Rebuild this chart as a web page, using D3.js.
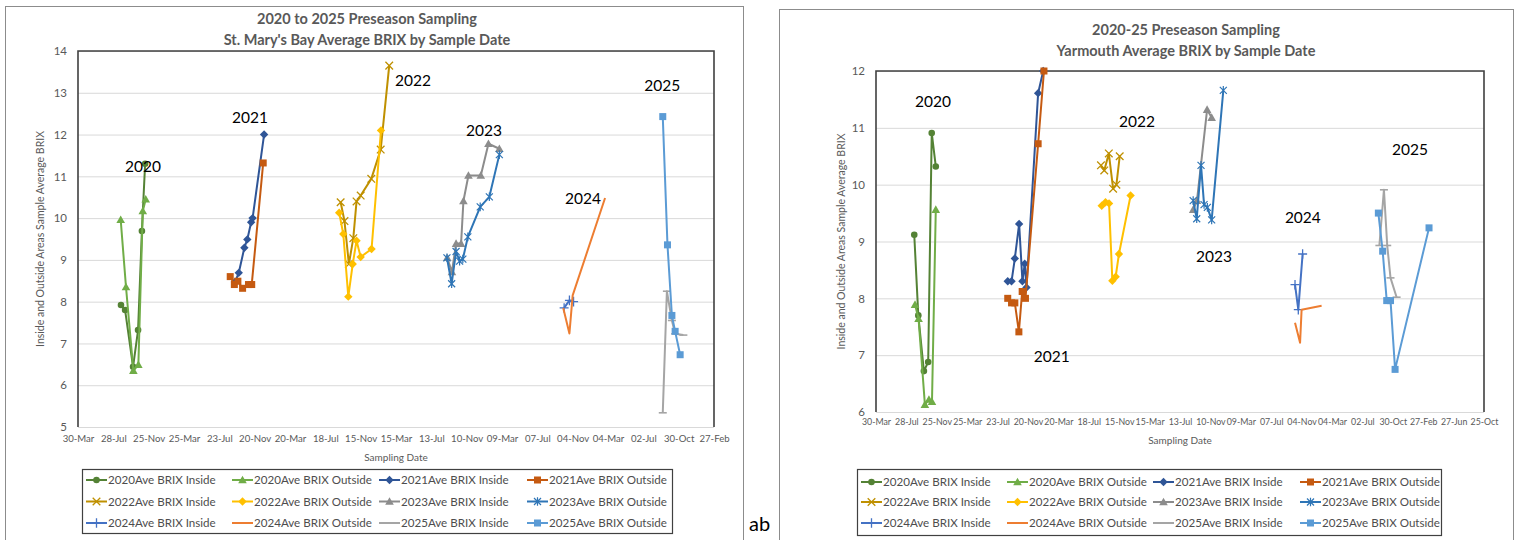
<!DOCTYPE html>
<html><head><meta charset="utf-8">
<script src="https://cdn.jsdelivr.net/npm/d3@7"></script>
<style>
body{margin:0;background:#fff;}
svg{display:block;font-family:Lato,'Open Sans',sans-serif;}
</style>
</head><body>
<svg id="c" width="1515" height="540"></svg>
<script>
// ---------- series definitions ----------
const seriesNames = [
  "2020Ave BRIX Inside","2020Ave BRIX Outside","2021Ave BRIX Inside","2021Ave BRIX Outside",
  "2022Ave BRIX Inside","2022Ave BRIX Outside","2023Ave BRIX Inside","2023Ave BRIX Outside",
  "2024Ave BRIX Inside","2024Ave BRIX Outside","2025Ave BRIX Inside","2025Ave BRIX Outside"];
const seriesColors = ["#548235","#70AD47","#2F5597","#C55A11","#BF9000","#FFC000",
  "#8C8C8C","#2E75B6","#4472C4","#ED7D31","#A5A5A5","#5B9BD5"];
const seriesMarkers = ["circle","triangle","diamond","square","x","diamond",
  "triangle","asterisk","plus","none","dash","square"];
const yearLabels = ["2020","2021","2022","2023","2024","2025"];

// ---------- St. Mary's Bay data [date, BRIX] ----------
const smb2020Inside  = [["2020-08-23",7.92],["2020-09-06",7.8],["2020-10-03",6.44],["2020-10-20",7.32],["2020-11-02",9.69],["2020-11-13",11.3]];
const smb2020Outside = [["2020-08-22",9.96],["2020-09-09",8.35],["2020-10-04",6.35],["2020-10-21",6.49],["2020-11-05",10.17],["2020-11-15",10.45]];
const smb2021Inside  = [["2021-09-14",8.47],["2021-09-27",8.69],["2021-10-16",9.29],["2021-10-26",9.49],["2021-11-08",9.9],["2021-11-13",10.0],["2021-12-22",12.0]];
const smb2021Outside = [["2021-08-29",8.6],["2021-09-12",8.41],["2021-09-24",8.49],["2021-10-10",8.32],["2021-10-30",8.41],["2021-11-10",8.41],["2021-12-19",11.32]];
const smb2022Inside  = [["2022-09-08",10.38],["2022-09-21",9.93],["2022-10-06",8.9],["2022-10-21",9.52],["2022-11-01",10.4],["2022-11-15",10.54],["2022-12-21",10.94],["2023-01-22",11.64],["2023-02-20",13.65]];
const smb2022Outside = [["2022-09-03",10.13],["2022-09-17",9.62],["2022-10-04",8.12],["2022-10-19",8.9],["2022-11-01",9.46],["2022-11-15",9.07],["2022-12-22",9.26],["2023-01-23",12.1]];
const smb2023Inside  = [["2023-09-05",9.05],["2023-09-21",8.71],["2023-10-05",9.39],["2023-10-22",9.39],["2023-10-30",10.41],["2023-11-16",11.02],["2023-12-28",11.02],["2024-01-23",11.78],["2024-02-29",11.66]];
const smb2023Outside = [["2023-09-04",9.05],["2023-09-20",8.43],["2023-10-05",9.2],["2023-10-17",8.97],["2023-10-28",9.02],["2023-11-14",9.55],["2023-12-26",10.27],["2024-01-26",10.51],["2024-02-29",11.52]];
const smb2024Inside  = [["2024-10-06",7.85],["2024-10-24",8.03],["2024-11-07",8.0]];
const smb2024Outside = [["2024-10-03",7.85],["2024-10-24",7.24],["2024-11-04",8.15],["2025-02-22",10.48]];
const smb2025Inside  = [["2025-09-06",5.34],["2025-09-20",8.25],["2025-10-07",7.55],["2025-10-18",7.23],["2025-11-15",7.2]];
const smb2025Outside = [["2025-09-06",12.43],["2025-09-22",9.36],["2025-10-07",7.67],["2025-10-18",7.29],["2025-11-04",6.73]];
const smbYearLabelPos = [["2020-11-06",11.23],["2021-11-04",12.41],["2023-05-12",13.29],["2024-01-08",12.1],["2024-12-09",10.47],["2025-09-04",13.17]];

// ---------- Yarmouth data [date, BRIX] ----------
const yar2020Inside  = [["2020-08-28",9.12],["2020-09-13",7.7],["2020-10-05",6.72],["2020-10-22",6.88],["2020-11-05",10.91],["2020-11-21",10.32]];
const yar2020Outside = [["2020-08-31",7.89],["2020-09-14",7.64],["2020-10-09",6.13],["2020-10-25",6.22],["2020-11-06",6.18],["2020-11-21",9.56]];
const yar2021Inside  = [["2021-09-01",8.3],["2021-09-16",8.3],["2021-09-29",8.7],["2021-10-16",9.31],["2021-10-29",8.3],["2021-11-07",8.61],["2021-11-14",8.19],["2021-12-30",11.61],["2022-01-19",12.0]];
const yar2021Outside = [["2021-09-01",8.0],["2021-09-16",7.92],["2021-09-29",7.92],["2021-10-15",7.41],["2021-10-28",8.12],["2021-11-10",8.0],["2021-12-30",10.72],["2022-01-22",12.0]];
const yar2022Inside  = [["2022-09-04",10.34],["2022-09-17",10.25],["2022-10-05",10.55],["2022-10-22",9.93],["2022-11-04",10.0],["2022-11-17",10.5]];
const yar2022Outside = [["2022-09-07",9.63],["2022-09-22",9.69],["2022-10-06",9.67],["2022-10-19",8.31],["2022-11-01",8.38],["2022-11-14",8.78],["2022-12-30",9.81]];
const yar2023Inside  = [["2023-09-03",9.56],["2023-09-18",9.72],["2023-10-28",11.32],["2023-11-15",11.18]];
const yar2023Outside = [["2023-09-03",9.72],["2023-09-17",9.4],["2023-10-04",10.34],["2023-10-16",9.65],["2023-10-29",9.6],["2023-11-15",9.38],["2023-12-31",11.66]];
const yar2024Inside  = [["2024-10-09",8.24],["2024-10-22",7.8],["2024-11-08",8.78]];
const yar2024Outside = [["2024-10-09",7.57],["2024-10-29",7.22],["2024-11-04",7.8],["2025-01-22",7.87]];
const yar2025Inside  = [["2025-09-07",8.93],["2025-09-25",9.91],["2025-10-08",8.93],["2025-10-21",8.36],["2025-11-14",8.02]];
const yar2025Outside = [["2025-09-03",9.5],["2025-09-20",8.83],["2025-10-06",7.96],["2025-10-21",7.96],["2025-11-08",6.75],["2026-03-22",9.24]];
const yarYearLabelPos = [["2020-11-10",11.47],["2022-02-22",6.97],["2023-01-24",11.11],["2023-11-24",8.73],["2024-11-09",9.42],["2026-01-06",10.62]];

// ---------- axes ----------
const xTickStart = "2020-03-30";
const xTickStepDays = 120;
const smbXTickCount = 19, yarXTickCount = 21;
const smbYTicks = [5,6,7,8,9,10,11,12,13,14];
const yarYTicks = [6,7,8,9,10,11,12];
const yAxisTitle = "Inside and Outside Areas Sample Average BRIX";
const xAxisTitle = "Sampling Date";

// ---------- chart configs ----------
const charts = [
  {title:["2020 to 2025 Preseason Sampling","St. Mary's Bay Average BRIX by Sample Date"],
   series:[smb2020Inside,smb2020Outside,smb2021Inside,smb2021Outside,smb2022Inside,smb2022Outside,smb2023Inside,smb2023Outside,smb2024Inside,smb2024Outside,smb2025Inside,smb2025Outside],
   yTicks:smbYTicks, xTickCount:smbXTickCount, labels:smbYearLabelPos,
   frame:{x:5,y:6,w:738,h:600}, plot:{l:78,t:51,r:714,b:427}, titleX:367, titleY:[24,45],
   yTitleX:44, xTitleY:461, xTickY:444, xTickFont:9.6,
   legend:{x:82,y:469,w:590,h:64,cols:[86,232,379,527],rows:[480,501.5,523]}},
  {title:["2020-25 Preseason Sampling","Yarmouth Average BRIX by Sample Date"],
   series:[yar2020Inside,yar2020Outside,yar2021Inside,yar2021Outside,yar2022Inside,yar2022Outside,yar2023Inside,yar2023Outside,yar2024Inside,yar2024Outside,yar2025Inside,yar2025Outside],
   yTicks:yarYTicks, xTickCount:yarXTickCount, labels:yarYearLabelPos,
   frame:{x:779,y:9,w:734,h:600}, plot:{l:876,t:71,r:1484,b:412}, titleX:1186, titleY:[35,56],
   yTitleX:845, xTitleY:444, xTickY:428, xTickFont:8.8,
   legend:{x:857,y:469,w:584,h:66,cols:[861,1007,1153,1300],rows:[482,502,523]}}
];

const svg = d3.select("#c");
const parse = d3.utcParse("%Y-%m-%d");
const fmt = d3.utcFormat("%d-%b");
const TXT = "#595959";

function drawMarker(g, type, color) {
  if (type === "circle") g.append("circle").attr("r",3.3).attr("fill",color);
  else if (type === "triangle") g.append("path").attr("d","M0,-4.3L4.3,3.3L-4.3,3.3Z").attr("fill",color);
  else if (type === "diamond") g.append("path").attr("d","M0,-4.2L4.2,0L0,4.2L-4.2,0Z").attr("fill",color);
  else if (type === "square") g.append("rect").attr("x",-3.5).attr("y",-3.5).attr("width",7).attr("height",7).attr("fill",color);
  else if (type === "x") g.append("path").attr("d","M-3.8,-3.8L3.8,3.8M-3.8,3.8L3.8,-3.8").attr("stroke",color).attr("stroke-width",1.3);
  else if (type === "asterisk") g.append("path").attr("d","M-3.5,-3.5L3.5,3.5M-3.5,3.5L3.5,-3.5M0,-4.3L0,4.3").attr("stroke",color).attr("stroke-width",1.2);
  else if (type === "plus") g.append("path").attr("d","M-4.5,0L4.5,0M0,-4.8L0,4.8").attr("stroke",color).attr("stroke-width",1.3);
  else if (type === "dash") g.append("path").attr("d","M-4,0L4,0").attr("stroke",color).attr("stroke-width",1.6);
}

charts.forEach(ch => {
  const p = ch.plot;
  const start = parse(xTickStart);
  const end = d3.utcDay.offset(start, xTickStepDays*(ch.xTickCount-1));
  const x = d3.scaleUtc().domain([start,end]).range([p.l,p.r]);
  const y = d3.scaleLinear().domain([d3.min(ch.yTicks), d3.max(ch.yTicks)]).range([p.b,p.t]);
  const tickDates = d3.range(ch.xTickCount).map(i => d3.utcDay.offset(start, i*xTickStepDays));

  svg.append("rect").attr("x",ch.frame.x+0.5).attr("y",ch.frame.y+0.5).attr("width",ch.frame.w).attr("height",ch.frame.h)
    .attr("fill","#fff").attr("stroke","#8c8c8c").attr("stroke-width",1);

  ch.title.forEach((t,i)=> svg.append("text").attr("x",ch.titleX).attr("y",ch.titleY[i]).attr("text-anchor","middle")
    .attr("fill",TXT).attr("font-weight","bold").attr("font-size",14.5).text(t));

  svg.append("g").attr("transform",`translate(${p.l},0)`)
    .call(d3.axisLeft(y).tickValues(ch.yTicks).tickSize(-(p.r-p.l)).tickFormat(""))
    .call(g=>g.select(".domain").remove())
    .call(g=>g.selectAll("line").attr("stroke","#d9d9d9").attr("stroke-width",1));

  svg.append("g").attr("transform",`translate(${p.l},0)`)
    .call(d3.axisLeft(y).tickValues(ch.yTicks).tickFormat(d3.format("d")).tickSize(0).tickPadding(11))
    .call(g=>g.select(".domain").remove())
    .call(g=>g.selectAll("text").attr("fill",TXT).attr("font-size",11.5).attr("font-family","Lato"));

  svg.append("g").attr("transform",`translate(0,${ch.xTickY-9})`)
    .call(d3.axisBottom(x).tickValues(tickDates).tickFormat(fmt).tickSize(0).tickPadding(0))
    .call(g=>g.select(".domain").remove())
    .call(g=>g.selectAll("text").attr("fill",TXT).attr("font-size",ch.xTickFont).attr("font-family","Lato").attr("dy","0.71em"));

  svg.append("path").attr("d",`M${p.l},${p.b}L${p.l},${p.t}L${p.r},${p.t}L${p.r},${p.b}`)
    .attr("fill","none").attr("stroke","#404040").attr("stroke-width",1.6);

  svg.append("text").attr("transform",`translate(${ch.yTitleX},${(p.t+p.b)/2}) rotate(-90)`).attr("text-anchor","middle")
    .attr("fill",TXT).attr("font-size",10.5).text(yAxisTitle);
  svg.append("text").attr("x",(p.l+p.r)/2).attr("y",ch.xTitleY).attr("text-anchor","middle")
    .attr("fill",TXT).attr("font-size",10).text(xAxisTitle);

  const line = d3.line().x(d=>x(parse(d[0]))).y(d=>y(d[1]));
  ch.series.forEach((s,i)=>{
    const g = svg.append("g");
    g.append("path").datum(s).attr("d",line).attr("fill","none").attr("stroke",seriesColors[i])
      .attr("stroke-width",2).attr("stroke-linejoin","round");
    s.forEach(d=>{
      const m = g.append("g").attr("transform",`translate(${x(parse(d[0]))},${y(d[1])})`);
      drawMarker(m, seriesMarkers[i], seriesColors[i]);
    });
  });

  ch.labels.forEach((d,i)=> svg.append("text").attr("x",x(parse(d[0]))).attr("y",y(d[1])).attr("dy","0.35em")
    .attr("text-anchor","middle").attr("fill","#000").attr("font-size",15.5).text(yearLabels[i]));

  const L = ch.legend;
  svg.append("rect").attr("x",L.x+0.5).attr("y",L.y+0.5).attr("width",L.w).attr("height",L.h)
    .attr("fill","#fff").attr("stroke","#404040").attr("stroke-width",1.2);
  seriesNames.forEach((n,i)=>{
    const cx = L.cols[i%4], cy = L.rows[Math.floor(i/4)];
    const g = svg.append("g").attr("transform",`translate(${cx},${cy})`);
    g.append("line").attr("x1",0).attr("x2",21).attr("stroke",seriesColors[i]).attr("stroke-width",2);
    const m = g.append("g").attr("transform","translate(10.5,0)");
    drawMarker(m, seriesMarkers[i], seriesColors[i]);
    g.append("text").attr("x",22).attr("dy","0.35em").attr("fill","#4d4d4d").attr("font-size",11.6).text(n);
  });
});

svg.append("text").attr("x",749).attr("y",531).attr("font-size",20).attr("fill","#000").text("ab");
</script>
</body></html>
